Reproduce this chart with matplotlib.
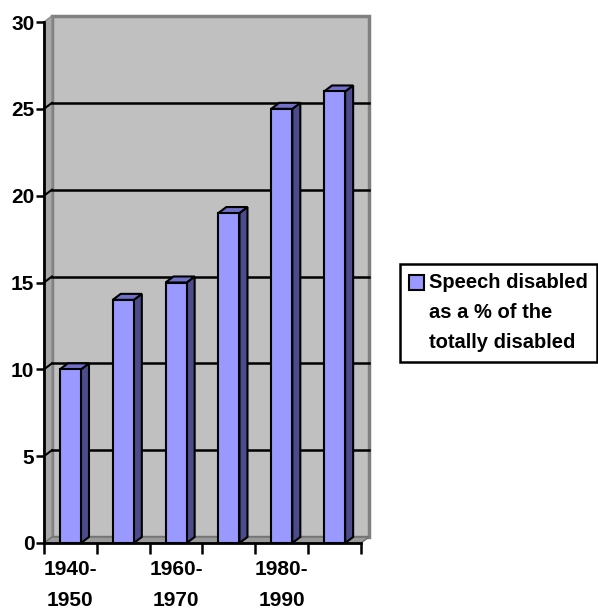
import matplotlib
matplotlib.use("Agg")
import matplotlib.pyplot as plt
from matplotlib.patches import Polygon, Rectangle

# ---- data ----
categories = ["1940-1950", "1950-1960", "1960-1970", "1970-1980", "1980-1990", "1990-2000"]
shown_labels = ["1940-\n1950", "", "1960-\n1970", "", "1980-\n1990", ""]
values = [10, 14, 15, 19, 25, 26]
series_name = "Speech disabled\nas a % of the\ntotally disabled"
yticks = [0, 5, 10, 15, 20, 25, 30]

plt.rcParams['font.family'] = ['Liberation Sans', 'DejaVu Sans']
plt.rcParams['font.weight'] = 'bold'

W, H = 598, 611
fig = plt.figure(figsize=(W / 100, H / 100), dpi=100)
ax = fig.add_axes([44 / W, (H - 543) / H, (361 - 44) / W, (543 - 22) / H])
n = len(values)
ax.set_xlim(0, n)
ax.set_ylim(0, 30)

DX = 8 / ((361 - 44) / n)
DY = 6 / ((543 - 22) / 30)

front = '#9999FF'
side = '#4C4C8C'
top = '#7070C8'
wall = '#C0C0C0'

# back wall
ax.add_patch(Polygon([(DX, DY), (n + DX, DY), (n + DX, 30 + DY), (DX, 30 + DY)],
                     closed=True, facecolor=wall, edgecolor='#808080', lw=2.5,
                     clip_on=False, zorder=1))
# left side wall
ax.add_patch(Polygon([(0, 0), (DX, DY), (DX, 30 + DY), (0, 30)], closed=True,
                     facecolor='#A8A8A8', edgecolor='#888888', lw=1, clip_on=False, zorder=1))
# floor
ax.add_patch(Polygon([(0, 0), (n, 0), (n + DX, DY), (DX, DY)], closed=True,
                     facecolor='#9A9A9A', edgecolor='#707070', lw=1, clip_on=False, zorder=1))

# gridlines
for t in yticks[1:-1]:
    ax.plot([DX, n + DX], [t + DY, t + DY], color='black', lw=1.8, clip_on=False, zorder=2)
    ax.plot([0, DX], [t, t + DY], color='black', lw=1.5, clip_on=False, zorder=2)

# bars
w = 0.4
for i, v in enumerate(values):
    c = i + 0.5
    x0, x1 = c - w / 2, c + w / 2
    ax.add_patch(Polygon([(x1, 0), (x1 + DX, DY), (x1 + DX, v + DY), (x1, v)], closed=True,
                         facecolor=side, edgecolor='black', lw=1.5, clip_on=False, zorder=3))
    ax.add_patch(Polygon([(x0, v), (x0 + DX, v + DY), (x1 + DX, v + DY), (x1, v)], closed=True,
                         facecolor=top, edgecolor='black', lw=1.5, clip_on=False, zorder=3))
    ax.add_patch(Rectangle((x0, 0), w, v, facecolor=front, edgecolor='black', lw=1.5,
                           clip_on=False, zorder=4))

# axes styling
ax.set_facecolor('none')
for s in ['top', 'right']:
    ax.spines[s].set_visible(False)
for s in ['left', 'bottom']:
    ax.spines[s].set_linewidth(2)
    ax.spines[s].set_color('black')
    ax.spines[s].set_zorder(5)

ax.set_yticks(yticks)
ax.set_yticklabels([str(t) for t in yticks], fontsize=15, fontweight='bold')
ax.tick_params(axis='y', direction='out', length=6, width=1.8, pad=1)

ax.set_xticks([i + 0.5 for i in range(n)])
ax.set_xticklabels(shown_labels, fontsize=15, fontweight='bold', linespacing=1.85)
ax.set_xticks(list(range(n + 1)), minor=True)
ax.tick_params(axis='x', which='major', length=0, pad=12)
ax.tick_params(axis='x', which='minor', direction='out', length=8, width=1.8)

# legend box (manual, Excel style)
fig.patches.append(Rectangle((400 / W, (H - 362) / H), 197 / W, 98 / H,
                             transform=fig.transFigure, facecolor='white',
                             edgecolor='black', lw=1.8))
fig.patches.append(Rectangle((409 / W, (H - 290) / H), 15 / W, 15 / H,
                             transform=fig.transFigure, facecolor=front,
                             edgecolor='black', lw=1.5))
fig.text(429 / W, (H - 273) / H, series_name, fontsize=14.5, fontweight='bold',
         ha='left', va='top', linespacing=1.72)

fig.savefig("out.png", dpi=100)
